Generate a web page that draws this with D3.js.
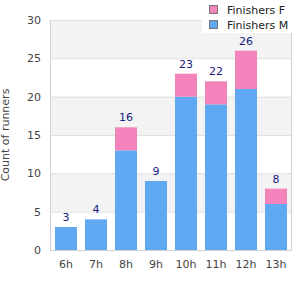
<!DOCTYPE html>
<html><head><meta charset="utf-8">
<script src="https://cdn.jsdelivr.net/npm/d3@7"></script>
<style>body{margin:0;background:#fff}svg{display:block}text{font-family:"DejaVu Sans",sans-serif}</style>
</head><body>
<svg id="c" width="300" height="300"></svg>
<script>
const categories = ["6h","7h","8h","9h","10h","11h","12h","13h"];
const finishersM = [3,4,13,9,20,19,21,6];
const finishersF = [0,0,3,0,3,3,5,2];
const yTicks = [0,5,10,15,20,25,30];
const seriesNames = ["Finishers F","Finishers M"];
const colors = {"Finishers M":"#61a8f3","Finishers F":"#f284bb"};

const svg = d3.select("#c");
const L=50,R=291,T=20,B=250;
const x = d3.scaleBand().domain(categories).range([51,291]).paddingInner(8/30).paddingOuter(4/30);
const y = d3.scaleLinear().domain([0,30]).range([B,T]);

// bands
for (let i=0;i<yTicks.length-1;i++){
  if (i%2===1) svg.append("rect").attr("x",L).attr("y",y(yTicks[i+1])).attr("width",R-L).attr("height",y(yTicks[i])-y(yTicks[i+1])).attr("fill","#f3f3f3");
}
svg.selectAll(".grid").data(yTicks.slice(1)).enter().append("line")
  .attr("x1",L).attr("x2",R).attr("y1",d=>y(d)+0.5).attr("y2",d=>y(d)+0.5).attr("stroke","#e0e0e0");

const rows = categories.map((c,i)=>({cat:c,"Finishers M":finishersM[i],"Finishers F":finishersF[i]}));
const stack = d3.stack().keys(["Finishers M","Finishers F"])(rows);
svg.selectAll(".s").data(stack).enter().append("g").attr("fill",d=>colors[d.key])
  .selectAll("rect").data(d=>d).enter().append("rect")
  .attr("x",d=>x(d.data.cat)).attr("width",x.bandwidth())
  .attr("y",d=>y(d[1])).attr("height",d=>y(d[0])-y(d[1]));

// axis frame
svg.append("line").attr("x1",L+0.5).attr("x2",L+0.5).attr("y1",T).attr("y2",B+1).attr("stroke","#d0d0d0");
svg.append("line").attr("x1",R+0.5).attr("x2",R+0.5).attr("y1",T).attr("y2",B+1).attr("stroke","#d0d0d0");
svg.append("line").attr("x1",L).attr("x2",R+1).attr("y1",B+0.5).attr("y2",B+0.5).attr("stroke","#d0d0d0");

// totals
svg.selectAll(".tot").data(rows).enter().append("text")
  .attr("x",d=>x(d.cat)+x.bandwidth()/2).attr("y",d=>y(d["Finishers M"]+d["Finishers F"])-6)
  .attr("text-anchor","middle").attr("font-size",11).attr("fill","#1a1a80")
  .text(d=>d["Finishers M"]+d["Finishers F"]);

// y ticks
svg.selectAll(".yt").data(yTicks).enter().append("text")
  .attr("x",41).attr("y",d=>y(d)+4).attr("text-anchor","end").attr("font-size",11).attr("fill","#444")
  .text(d=>d);
// x ticks
svg.selectAll(".xt").data(categories).enter().append("text")
  .attr("x",d=>x(d)+x.bandwidth()/2).attr("y",268).attr("text-anchor","middle").attr("font-size",11).attr("fill","#444")
  .text(d=>d);
svg.append("text").attr("transform","translate(9,135) rotate(-90)").attr("text-anchor","middle")
  .attr("font-size",11).attr("fill","#444").text("Count of runners");

// legend
svg.append("rect").attr("x",202).attr("y",0).attr("width",98).attr("height",33).attr("fill","#fff");
const lg = svg.selectAll(".lg").data(seriesNames).enter().append("g")
  .attr("transform",(d,i)=>`translate(209,${5+i*15})`);
lg.append("rect").attr("x",0.5).attr("y",0.5).attr("width",8).attr("height",8).attr("fill",d=>colors[d]).attr("stroke","#777");
lg.append("text").attr("x",18).attr("y",8.5).attr("font-size",11).attr("fill","#222").text(d=>d);
</script>
</body></html>
